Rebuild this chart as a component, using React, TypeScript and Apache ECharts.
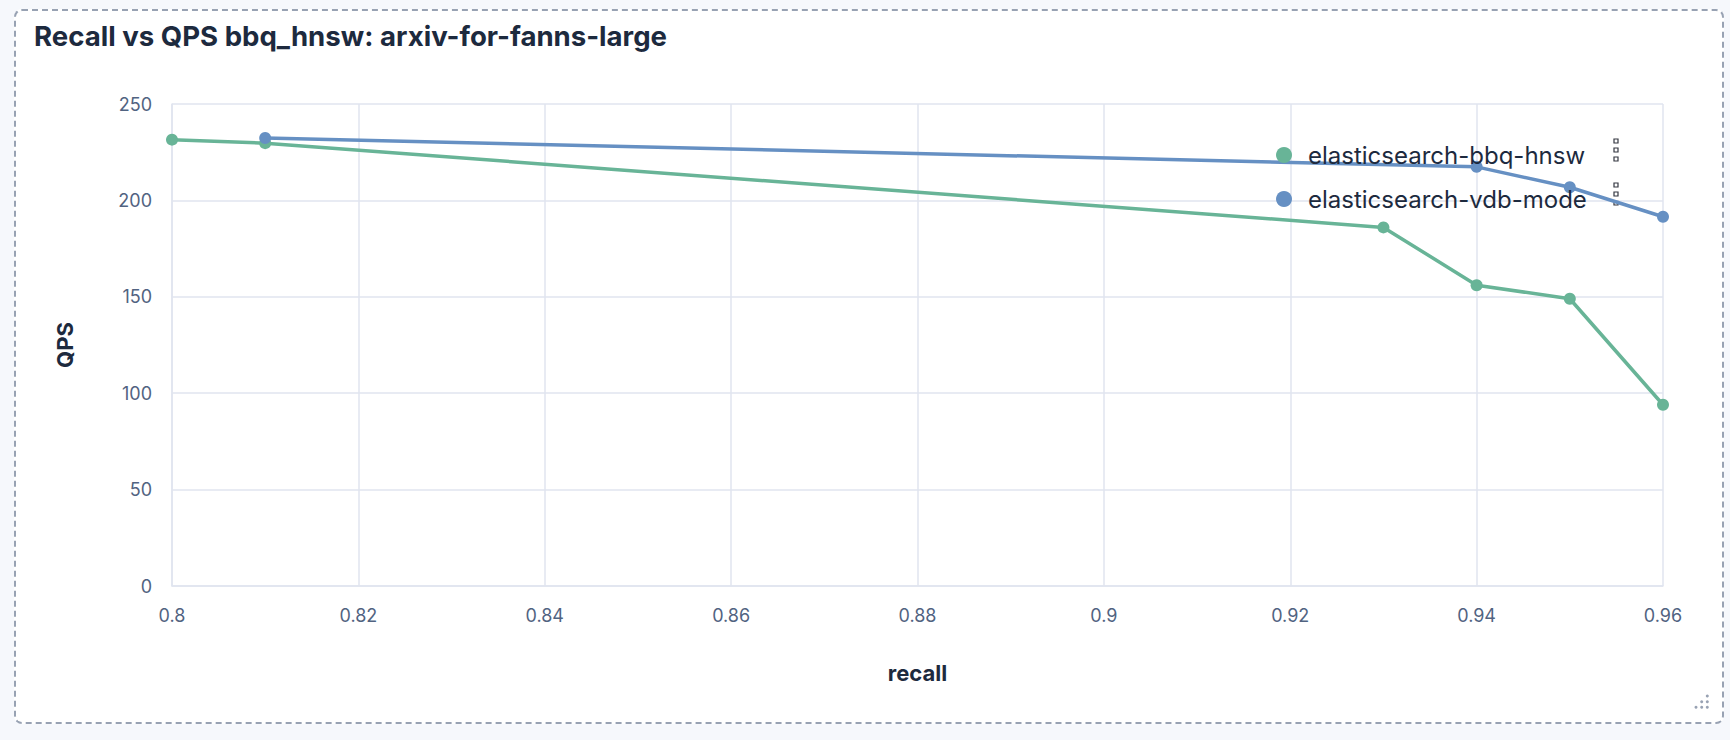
import { useEffect, useRef } from "react";
import * as echarts from "echarts";

const titleText = "Recall vs QPS bbq_hnsw: arxiv-for-fanns-large";
const seriesNames = ["elasticsearch-bbq-hnsw", "elasticsearch-vdb-mode"];
const seriesColors = ["#68b497", "#6690c3"];

// recall / QPS pairs
const bbqRecall = [0.8, 0.81, 0.93, 0.94, 0.95, 0.96];
const bbqQps = [231.5, 229.7, 186, 156, 149, 94];
const vdbRecall = [0.81, 0.94, 0.95, 0.96];
const vdbQps = [232.4, 217.4, 206.8, 191.5];

const xTicks = [0.8, 0.96, 0.02];
const yTicks = [0, 250, 50];

const FONT = "Inter, 'Noto Sans', sans-serif";

export default function App() {
  const chartRef = useRef<HTMLDivElement>(null);

  useEffect(() => {
    document.body.style.margin = "0";
    if (!chartRef.current) return;
    const chart = echarts.init(chartRef.current, undefined, { renderer: "svg" });

    const pairs = (xs: number[], ys: number[]) => xs.map((x, i) => [x, ys[i]]);

    // the little "more" boxes next to legend rows, and the resize dots
    const moreBoxes: any[] = [];
    [141, 185].forEach((y0) => {
      for (let k = 0; k < 3; k++) {
        moreBoxes.push({
          type: "rect",
          shape: { x: 1614, y: y0 + k * 9 - 2, width: 4, height: 4 },
          style: { fill: "#ffffff", stroke: "#343741", lineWidth: 1.2 },
        });
      }
    });
    const dots: any[] = [];
    const dx = [1696, 1701.7, 1707.3];
    const dy = [696, 701.7, 707.3];
    for (let r = 0; r < 3; r++) {
      for (let c = 2 - r; c < 3; c++) {
        dots.push({
          type: "circle",
          shape: { cx: dx[c], cy: dy[r], r: 1.5 },
          style: { fill: "#98a2b3" },
        });
      }
    }

    chart.setOption({
      animation: false,
      title: {
        text: titleText,
        left: 29,
        top: 17,
        textStyle: { fontFamily: FONT, fontSize: 27.6, fontWeight: 700, color: "#1d2a3e" },
      },
      legend: {
        orient: "vertical",
        left: 1271,
        top: 138,
        itemGap: 20,
        itemWidth: 16,
        itemHeight: 16,
        icon: "circle",
        data: seriesNames,
        textStyle: {
          fontFamily: FONT,
          fontSize: 24,
          color: "#1d2a3e",
          padding: [0, 0, 0, 11],
        },
      },
      grid: { left: 172, right: 67, top: 104, bottom: 154 },
      xAxis: {
        type: "value",
        min: xTicks[0],
        max: xTicks[1],
        interval: xTicks[2],
        name: "recall",
        nameLocation: "middle",
        nameGap: 76,
        nameTextStyle: { fontFamily: FONT, fontSize: 22, fontWeight: 700, color: "#1d2a3e" },
        axisLine: { lineStyle: { color: "#e0e5ef", width: 1.5 } },
        axisTick: { show: false },
        axisLabel: {
          margin: 20,
          fontFamily: FONT,
          fontSize: 18,
          color: "#516381",
          formatter: (v: number) => String(+v.toFixed(2)),
        },
        splitLine: { lineStyle: { color: "#e0e5ef", width: 1.5 } },
      },
      yAxis: {
        type: "value",
        min: yTicks[0],
        max: yTicks[1],
        interval: yTicks[2],
        name: "QPS",
        nameLocation: "middle",
        nameRotate: 90,
        nameGap: 96,
        nameTextStyle: { fontFamily: FONT, fontSize: 22, fontWeight: 700, color: "#1d2a3e" },
        axisLine: { show: true, lineStyle: { color: "#e0e5ef", width: 1.5 } },
        axisTick: { show: false },
        axisLabel: { margin: 20, fontFamily: FONT, fontSize: 18, color: "#516381" },
        splitLine: { lineStyle: { color: "#e0e5ef", width: 1.5 } },
      },
      series: [
        {
          name: seriesNames[0],
          type: "line",
          data: pairs(bbqRecall, bbqQps),
          symbol: "circle",
          symbolSize: 12,
          color: seriesColors[0],
          lineStyle: { width: 3.5 },
        },
        {
          name: seriesNames[1],
          type: "line",
          data: pairs(vdbRecall, vdbQps),
          symbol: "circle",
          symbolSize: 12,
          color: seriesColors[1],
          lineStyle: { width: 3.5 },
        },
      ],
      graphic: [...moreBoxes, ...dots],
    });

    return () => chart.dispose();
  }, []);

  return (
    <div
      style={{
        position: "absolute",
        left: 0,
        top: 0,
        width: 1730,
        height: 740,
        background: "#f6f8fc",
      }}
    >
      <div
        style={{
          position: "absolute",
          left: 14,
          top: 9,
          width: 1706,
          height: 711,
          border: "2px dashed #98a2b3",
          borderRadius: 8,
          background: "#ffffff",
        }}
      />
      <div
        ref={chartRef}
        style={{ position: "absolute", left: 0, top: 0, width: 1730, height: 740 }}
      />
    </div>
  );
}
